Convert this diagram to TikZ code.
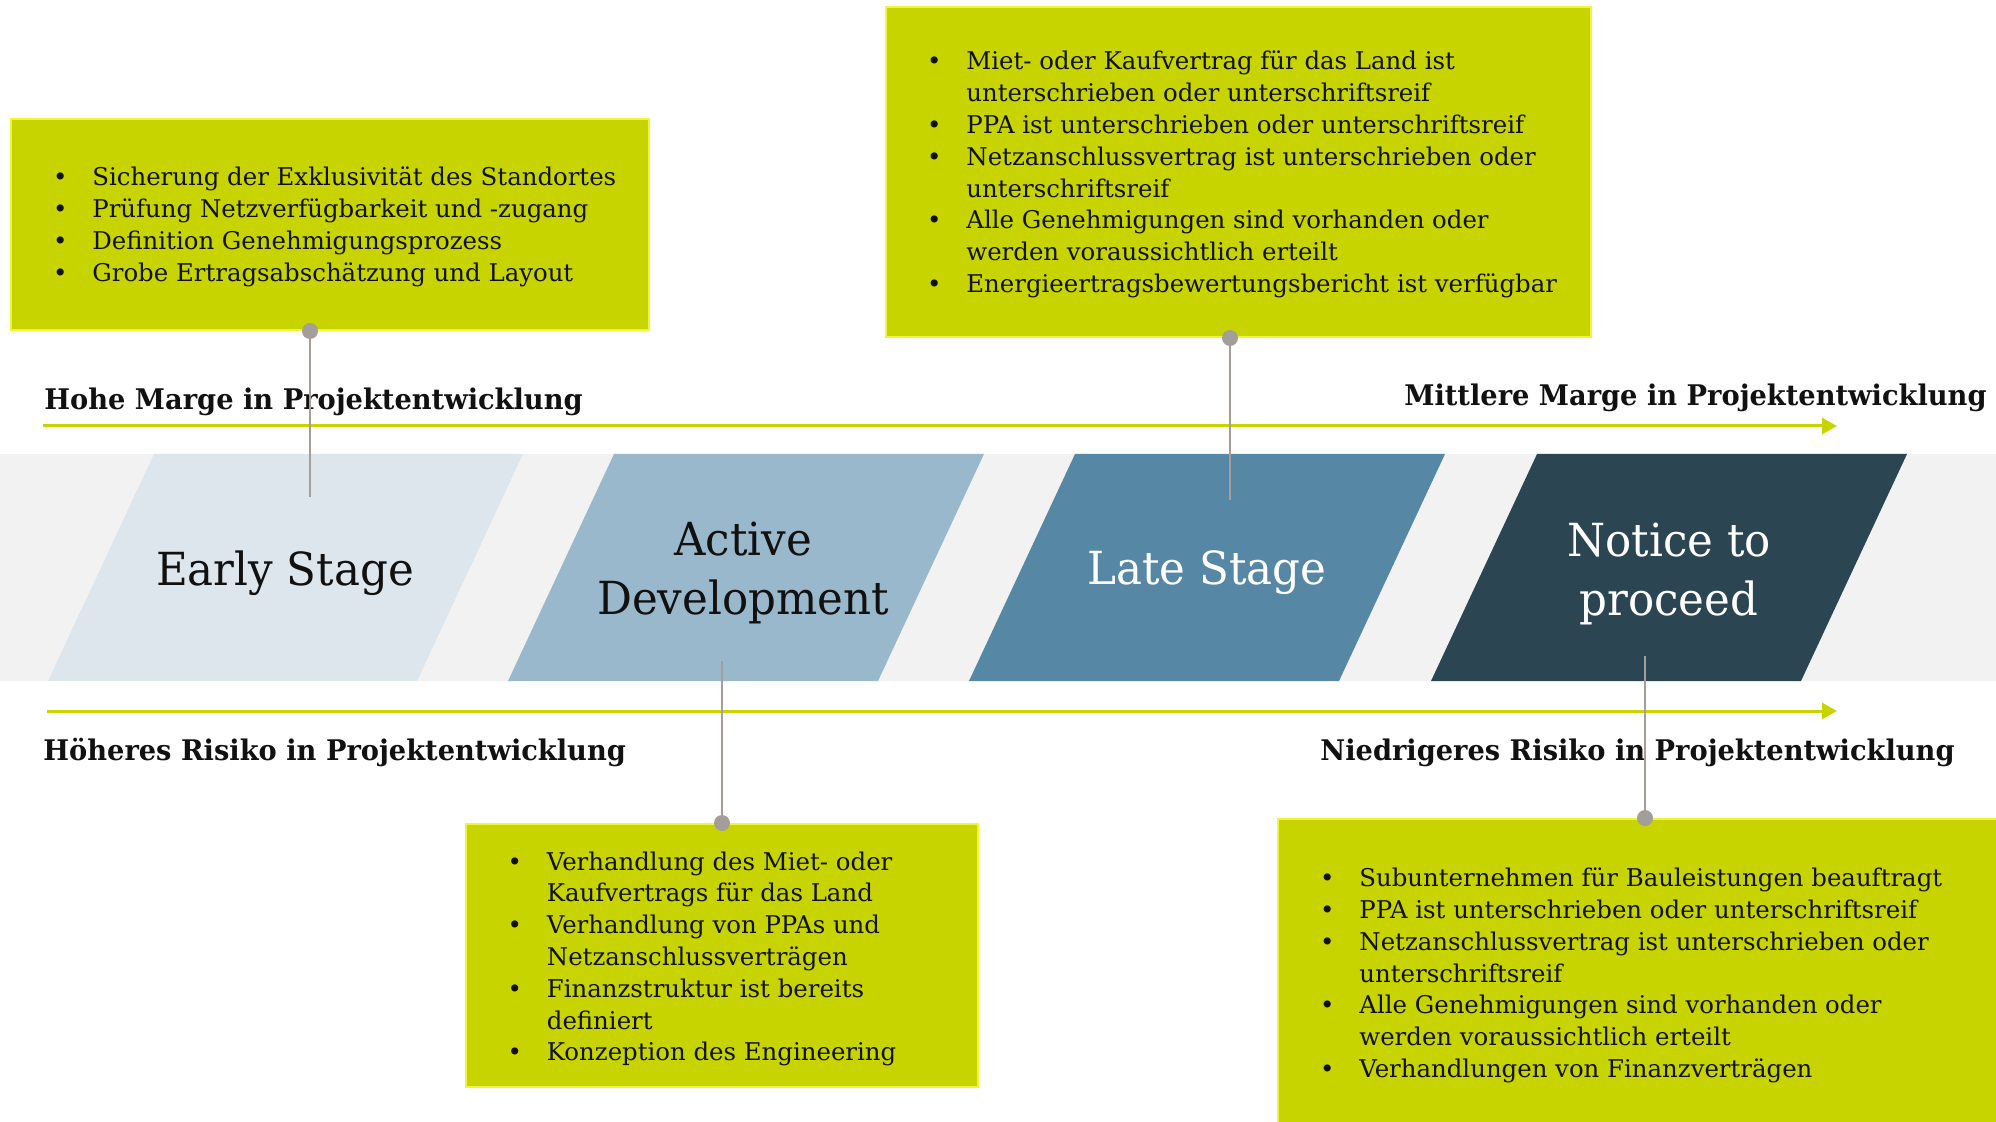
\documentclass[tikz,border=0pt]{standalone}
\usepackage{fontspec}
\setmainfont{DejaVu Serif}
\newfontfamily\lblfont{DejaVu Serif}[FakeStretch=0.96]
\newfontfamily\stagefont{DejaVu Serif}[FakeStretch=0.955]
\usetikzlibrary{arrows.meta}
\definecolor{lime}{RGB}{200,212,0}
\definecolor{limeedge}{RGB}{238,245,60}
\definecolor{bandgray}{RGB}{242,242,242}
\definecolor{stA}{RGB}{222,230,237}
\definecolor{stB}{RGB}{154,184,203}
\definecolor{stC}{RGB}{86,136,166}
\definecolor{stD}{RGB}{44,69,83}
\definecolor{conngray}{RGB}{164,158,154}
\definecolor{ink}{RGB}{17,17,17}
\newcommand\bu{\leavevmode\llap{\makebox[0pt][c]{\textbullet}\hspace{16pt}}}
\newcommand\cbody[1]{\parbox[t]{400pt}{\fontsize{12.2}{15.9}\selectfont #1}}
\tikzset{
  gbox/.style={rectangle, fill=lime, draw=limeedge, line width=1pt, inner sep=0pt},
  btext/.style={anchor=base west, inner sep=0pt, text=ink},
  stagetext/.style={anchor=base, inner sep=0pt, font=\stagefont\fontsize{22.8}{29.5}\selectfont},
  marglabel/.style={inner sep=0pt, text=ink, font=\lblfont\fontsize{14.2}{17}\selectfont\bfseries},
  timeline/.style={draw=lime, line width=1.5pt, -{Triangle[length=7.5pt,width=8pt]}},
  connline/.style={draw=conngray, line width=1.25pt},
  conndot/.style={fill=conngray}
}
\begin{document}
\begin{tikzpicture}[x=0.5pt,y=-0.5pt]
\clip (0,0) rectangle (1996,1122);
% band and stages
\fill[bandgray] (0,454) rectangle (1996,681);
\fill[stA] (154,454) -- (523,454) -- (417,681) -- (48,681) -- cycle;
\fill[stB] (614,454) -- (984,454) -- (878,681) -- (508,681) -- cycle;
\fill[stC] (1075,454) -- (1445,454) -- (1339,681) -- (969,681) -- cycle;
\fill[stD] (1537,454) -- (1907,454) -- (1801,681) -- (1431,681) -- cycle;
\node[stagetext, text=ink] (s1) at (285,585) {Early Stage};
\node[stagetext, text=ink] (s2) at (743,555) {\parbox[t]{200pt}{\centering Active\\Development}};
\node[stagetext, text=white] (s3) at (1207,584) {Late Stage};
\node[stagetext, text=white] (s4) at (1669,556) {\parbox[t]{200pt}{\centering Notice to\\proceed}};
% timelines
\coordinate (a1s) at (43,426);
\coordinate (a1e) at (1837,426);
\coordinate (a2s) at (47,711);
\coordinate (a2e) at (1837,711);
\draw[timeline] (a1s) -- (a1e);
\draw[timeline] (a2s) -- (a2e);
\node[marglabel, anchor=base west] (hm) at (44,410) {Hohe Marge in Projektentwicklung};
\node[marglabel, anchor=base east] (mm) at (1987,406) {Mittlere Marge in Projektentwicklung};
\node[marglabel, anchor=base west] (hr) at (43,760) {Höheres Risiko in Projektentwicklung};
\node[marglabel, anchor=base east] (nr) at (1955,760) {Niedrigeres Risiko in Projektentwicklung};
% boxes
\node[gbox, minimum width=319pt, minimum height=105.5pt] (b1) at (330,224.5) {};
\node[gbox, minimum width=256pt, minimum height=131.5pt] (b2) at (722,955.5) {};
\node[gbox, minimum width=352.5pt, minimum height=165pt] (b3) at (1238.5,172) {};
\node[gbox, minimum width=366pt, minimum height=160.5pt] (b4) at (1644,979.5) {};
\node[btext] (t1) at (92,186) {\cbody{\bu Sicherung der Exklusivität des Standortes\\
\bu Prüfung Netzverfügbarkeit und -zugang\\
\bu Definition Genehmigungsprozess\\
\bu Grobe Ertragsabschätzung und Layout}};
\node[btext] (t2) at (546.5,870) {\cbody{\bu Verhandlung des Miet- oder\\
Kaufvertrags für das Land\\
\bu Verhandlung von PPAs und\\
Netzanschlussverträgen\\
\bu Finanzstruktur ist bereits\\
definiert\\
\bu Konzeption des Engineering}};
\node[btext] (t3) at (966,70) {\cbody{\bu Miet- oder Kaufvertrag für das Land ist\\
unterschrieben oder unterschriftsreif\\
\bu PPA ist unterschrieben oder unterschriftsreif\\
\bu Netzanschlussvertrag ist unterschrieben oder\\
unterschriftsreif\\
\bu Alle Genehmigungen sind vorhanden oder\\
werden voraussichtlich erteilt\\
\bu Energieertragsbewertungsbericht ist verfügbar}};
\node[btext] (t4) at (1359,886.7) {\cbody{\bu Subunternehmen für Bauleistungen beauftragt\\
\bu PPA ist unterschrieben oder unterschriftsreif\\
\bu Netzanschlussvertrag ist unterschrieben oder\\
unterschriftsreif\\
\bu Alle Genehmigungen sind vorhanden oder\\
werden voraussichtlich erteilt\\
\bu Verhandlungen von Finanzverträgen}};
% connectors
\coordinate (e1) at (310,497);
\coordinate (e2) at (722,661);
\coordinate (e3) at (1230,500);
\coordinate (e4) at (1645,656);
\draw[connline] (e1 |- b1.south) -- (e1);
\draw[connline] (e2) -- (e2 |- b2.north);
\draw[connline] (e3 |- b3.south) -- (e3);
\draw[connline] (e4) -- (e4 |- b4.north);
\fill[conndot] (e1 |- b1.south) circle (4pt);
\fill[conndot] (e2 |- b2.north) circle (4pt);
\fill[conndot] (e3 |- b3.south) circle (4pt);
\fill[conndot] (e4 |- b4.north) circle (4pt);
\end{tikzpicture}
\end{document}
